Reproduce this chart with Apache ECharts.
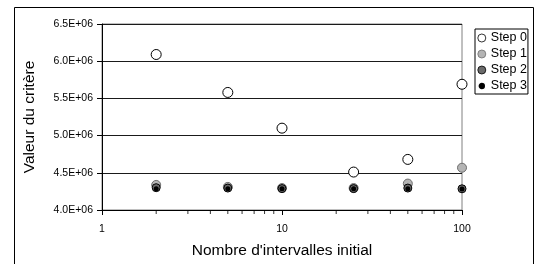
<!DOCTYPE html>
<html lang="fr">
<head>
    <meta charset="UTF-8">
    <title>Valeur du critère</title>
    <script src="https://cdn.jsdelivr.net/npm/echarts@6/dist/echarts.min.js"></script>
    <style>
        html, body { margin: 0; padding: 0; background: #fff; }
        #chart { width: 536px; height: 264px; }
    </style>
</head>
<body>
    <div id="chart"></div>
<script>
    // valeurs
    var intervalles = [2, 5, 10, 25, 50, 100];
    var step0 = [6.09e6, 5.58e6, 5.10e6, 4.51e6, 4.68e6, 5.69e6];
    var step1 = [4.337e6, 4.31e6, 4.295e6, 4.295e6, 4.355e6, 4.568e6];
    var step2 = [4.30e6, 4.295e6, 4.288e6, 4.288e6, 4.295e6, 4.285e6];
    var step3 = [4.285e6, 4.285e6, 4.285e6, 4.285e6, 4.285e6, 4.283e6];
    // graduations secondaires de l'axe log
    var minorTicksX = [2, 3, 4, 5, 6, 7, 8, 9, 20, 30, 40, 50, 60, 70, 80, 90];

    var font = '"Liberation Sans", Arial, sans-serif';

    function pairs(xs, ys) {
        return xs.map(function (x, i) { return [x, ys[i]]; });
    }

    function sciLabel(v) {
        var e = Math.floor(Math.log10(v));
        var m = v / Math.pow(10, e);
        return m.toFixed(1) + 'E+' + (e < 10 ? '0' + e : e);
    }

    var option = {
        animation: false,
        backgroundColor: '#fff',
        textStyle: { fontFamily: font },
        graphic: [{
            type: 'rect',
            shape: { x: 14.5, y: 7.5, width: 519, height: 300 },
            style: { fill: 'none', stroke: '#000', lineWidth: 1 },
            silent: true
        }],
        grid: {
            left: 102, top: 24, right: 74, bottom: 52,
            show: true, borderColor: '#808080', borderWidth: 1
        },
        legend: {
            orient: 'vertical',
            left: 475, top: 29,
            padding: [2, 1, 1, 2],
            backgroundColor: '#fff',
            borderColor: '#000',
            borderWidth: 1,
            borderRadius: 0,
            itemWidth: 8, itemHeight: 8,
            itemGap: 2,
            textStyle: { fontFamily: font, fontSize: 12.5, color: '#000', lineHeight: 14 },
            data: [
                { name: 'Step 0', itemStyle: { color: '#fff', borderColor: '#000', borderWidth: 0.8 } },
                { name: 'Step 1', itemStyle: { color: '#b4b4b4', borderColor: '#6e6e6e', borderWidth: 0.8 } },
                { name: 'Step 2', itemStyle: { color: '#6a6a6a', borderColor: '#000', borderWidth: 0.8 } },
                { name: 'Step 3', itemStyle: { color: '#000', borderColor: '#fff', borderWidth: 1.6 } }
            ]
        },
        xAxis: {
            type: 'log',
            logBase: 10,
            min: 1, max: 100,
            name: "Nombre d'intervalles initial",
            nameLocation: 'middle',
            nameGap: 33,
            nameTextStyle: { fontFamily: font, fontSize: 15.5, color: '#000' },
            axisLine: { lineStyle: { color: '#000', width: 1 } },
            axisTick: { show: true, length: 5, lineStyle: { color: '#000' } },
            axisLabel: { color: '#000', fontSize: 10.5, margin: 14, fontFamily: font },
            splitLine: { show: false }
        },
        yAxis: {
            type: 'value',
            min: 4.0e6, max: 6.5e6, interval: 5e5,
            name: 'Valeur du critère',
            nameLocation: 'middle',
            nameGap: 64,
            nameTextStyle: { fontFamily: font, fontSize: 15.5, color: '#000' },
            axisLine: { show: true, lineStyle: { color: '#000', width: 1 } },
            axisTick: { show: true, length: 5, lineStyle: { color: '#000' } },
            axisLabel: { color: '#000', fontSize: 10.5, margin: 9, fontFamily: font, formatter: sciLabel },
            splitLine: { show: true, lineStyle: { color: '#1a1a1a', width: 1 } }
        },
        series: [{
            name: 'minor',
            type: 'scatter',
            silent: true,
            symbol: 'rect',
            symbolSize: [1, 4],
            symbolOffset: [0, 2],
            itemStyle: { color: '#000' },
            data: minorTicksX.map(function (x) { return [x, 4.0e6]; }),
            z: 1
        }, {
            name: 'Step 0',
            type: 'scatter',
            symbol: 'circle',
            symbolSize: 10,
            itemStyle: { color: '#fff', borderColor: '#000', borderWidth: 1, opacity: 1 },
            data: pairs(intervalles, step0),
            z: 2
        }, {
            name: 'Step 1',
            type: 'scatter',
            symbol: 'circle',
            symbolSize: 9,
            itemStyle: { color: '#b4b4b4', borderColor: '#6e6e6e', borderWidth: 1, opacity: 1 },
            data: pairs(intervalles, step1),
            z: 3
        }, {
            name: 'Step 2',
            type: 'scatter',
            symbol: 'circle',
            symbolSize: 8,
            itemStyle: { color: '#6a6a6a', borderColor: '#000', borderWidth: 1, opacity: 1 },
            data: pairs(intervalles, step2),
            z: 4
        }, {
            name: 'Step 3',
            type: 'scatter',
            symbol: 'circle',
            symbolSize: 5,
            itemStyle: { color: '#000', opacity: 1 },
            data: pairs(intervalles, step3),
            z: 5
        }]
    };

    var myChart = echarts.init(document.getElementById('chart'));
    myChart.setOption(option);
</script>
</body>
</html>
